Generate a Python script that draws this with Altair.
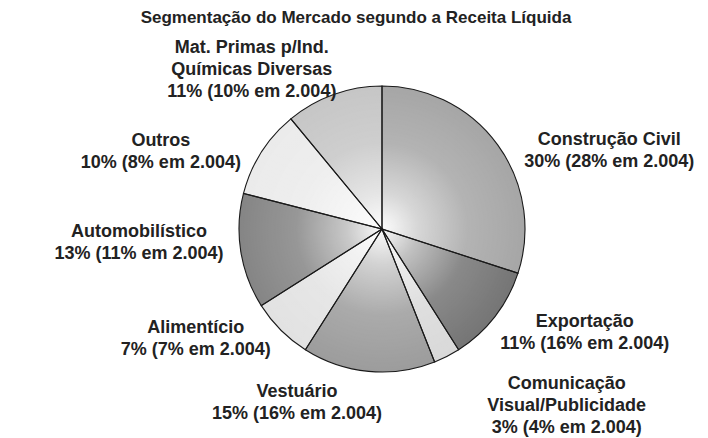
import altair as alt
import pandas as pd

# ---- data ----
title_text = "Segmentação do Mercado segundo a Receita Líquida"
categories = [
    "Construção Civil",
    "Exportação",
    "Comunicação Visual/Publicidade",
    "Vestuário",
    "Alimentício",
    "Automobilístico",
    "Outros",
    "Mat. Primas p/Ind. Químicas Diversas",
]
label_names = [
    "Construção Civil",
    "Exportação",
    "Comunicação\nVisual/Publicidade",
    "Vestuário",
    "Alimentício",
    "Automobilístico",
    "Outros",
    "Mat. Primas p/Ind.\nQuímicas Diversas",
]
share_2005 = [30, 11, 3, 15, 7, 13, 10, 11]
share_2004 = [28, 16, 4, 16, 7, 11, 8, 10]

# ---- styling / layout ----
slice_colors = ["#a6a6a6", "#757575", "#d9d9d9", "#9c9c9c",
                "#e2e2e2", "#858585", "#ebebeb", "#c6c6c6"]
# label placement (first text line): angular nudge from the slice middle
# (in % of the circle) and distance from the pie centre (px)
label_nudge = [4.06, -3.67, -6.4, 6.14, 4.72, 2.31, -2.97, -4.42]
label_radius = [244, 223, 241, 184, 211, 243, 238, 223]

labels = [
    f"{n}\n{a}% ({b}% em 2.004)" for n, a, b in zip(label_names, share_2005, share_2004)
]

df = pd.DataFrame({
    "idx": list(range(len(categories))),
    "category": categories,
    "share": share_2005,
    "label": labels,
    "nudge": label_nudge,
    "lab_r": label_radius,
})

R = 143
cx = alt.value(374)
cy = alt.value(221)
theta_scale = alt.Scale(domain=[0, 100])

base = alt.Chart(df)

slices = base.mark_arc(outerRadius=R).encode(
    theta=alt.Theta("share:Q", stack=True, scale=theta_scale),
    color=alt.Color("category:N", scale=alt.Scale(domain=categories, range=slice_colors), legend=None),
    order=alt.Order("idx:Q"),
    x=cx,
    y=cy,
)

highlight = alt.Gradient(
    gradient="radial",
    x1=0.5, y1=0.5, r1=0,
    x2=0.5, y2=0.5, r2=0.5,
    stops=[
        alt.GradientStop(color="rgba(255,255,255,0.97)", offset=0),
        alt.GradientStop(color="rgba(255,255,255,0.55)", offset=0.25),
        alt.GradientStop(color="rgba(255,255,255,0.15)", offset=0.6),
        alt.GradientStop(color="rgba(255,255,255,0.0)", offset=1),
    ],
)

overlay = base.transform_aggregate(total="sum(share)").mark_arc(
    outerRadius=R, fill=highlight
).encode(
    theta=alt.Theta("total:Q", stack=True, scale=theta_scale),
    x=cx,
    y=cy,
)

outline = base.mark_arc(
    outerRadius=R, fillOpacity=0, stroke="#1a1a1a", strokeWidth=1.1
).encode(
    theta=alt.Theta("share:Q", stack=True, scale=theta_scale),
    detail="category:N",
    order=alt.Order("idx:Q"),
    x=cx,
    y=cy,
)

text = base.transform_window(
    cum="sum(share)", sort=[alt.SortField("idx")], frame=[None, 0]
).transform_calculate(
    lab_pos="datum.cum - datum.share / 2 + datum.nudge"
).mark_text(
    font="Liberation Sans", fontWeight="bold", fontSize=18, lineHeight=22,
    lineBreak="\n", align="center", baseline="middle", color="#222222",
).encode(
    theta=alt.Theta("lab_pos:Q", stack=False, scale=theta_scale),
    radius=alt.Radius("lab_r:Q", scale=None),
    text="label:N",
    x=cx,
    y=cy,
)

title = alt.Chart(pd.DataFrame({"t": [title_text]})).mark_text(
    font="Liberation Sans", fontWeight="bold", fontSize=17, align="center",
    baseline="alphabetic", color="#222222",
).encode(text="t:N", x=alt.value(348), y=alt.value(15))

chart = alt.layer(slices, overlay, outline, text, title).properties(
    width=692, height=430, padding=0, autosize="none"
).configure_view(stroke=None)

chart.save("out.html", embed_options={"renderer": "svg", "actions": False})
